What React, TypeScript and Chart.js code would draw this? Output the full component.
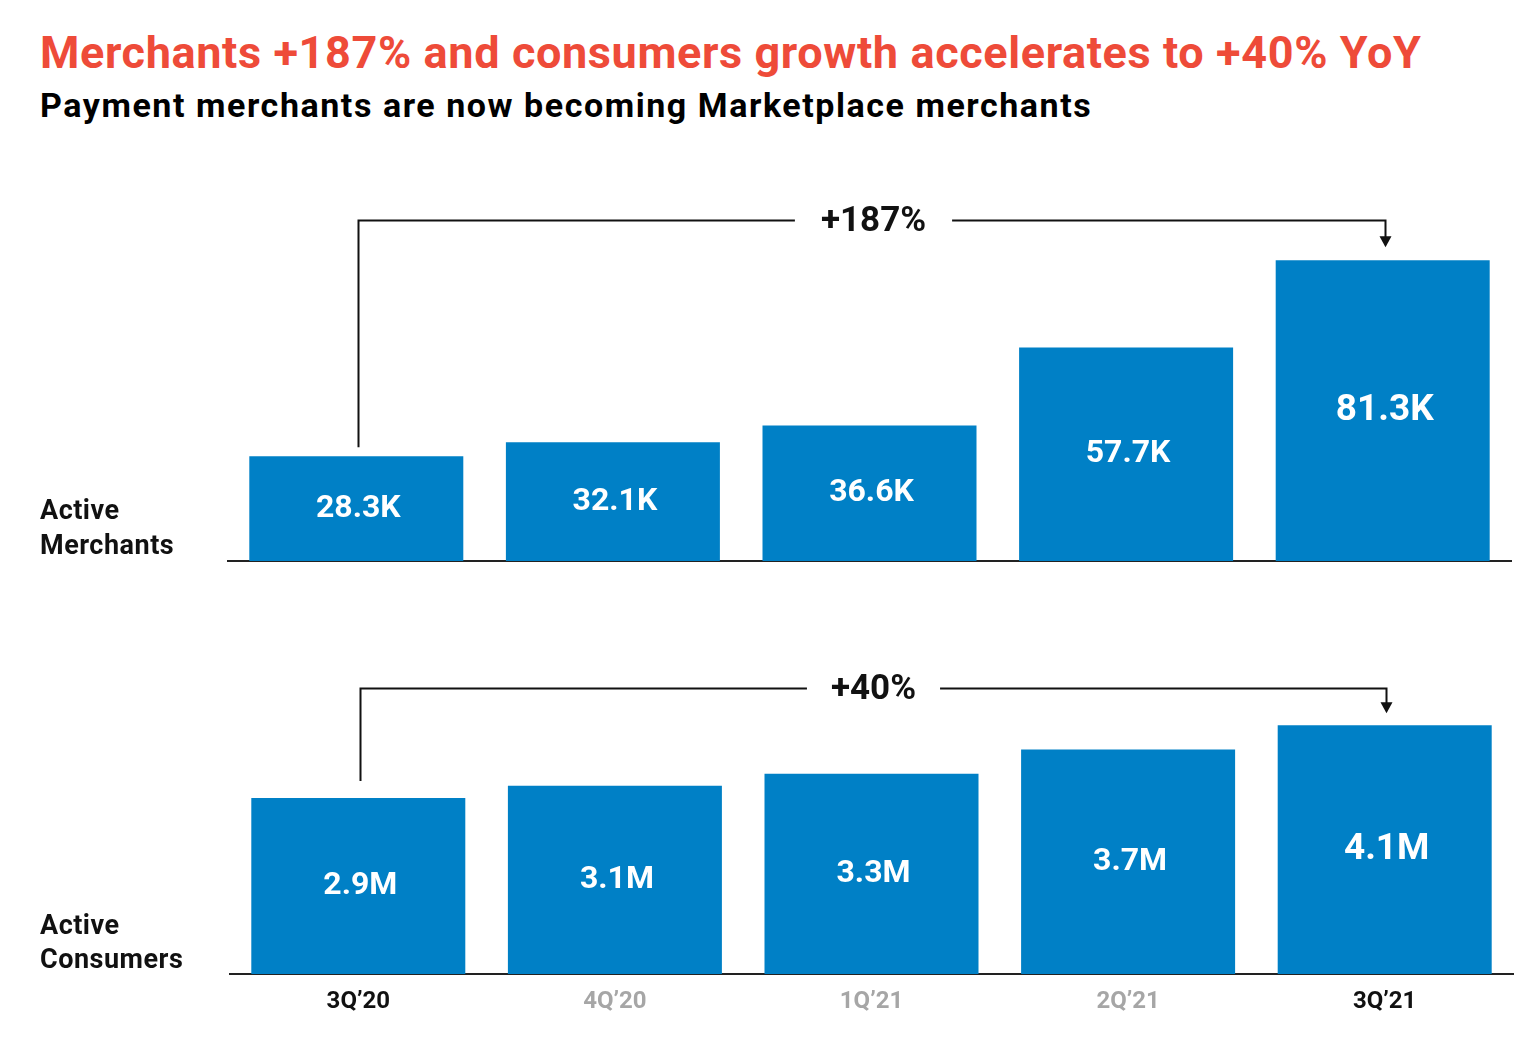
import React, { useEffect, useRef } from 'react';
import { Chart, registerables } from 'chart.js';

Chart.register(...registerables);

const quarters = ['3Q\u201920', '4Q\u201920', '1Q\u201921', '2Q\u201921', '3Q\u201921'];
const merchantValues = [28.3, 32.1, 36.6, 57.7, 81.3];
const merchantLabels = ['28.3K', '32.1K', '36.6K', '57.7K', '81.3K'];
const consumerValues = [2.9, 3.1, 3.3, 3.7, 4.1];
const consumerLabels = ['2.9M', '3.1M', '3.3M', '3.7M', '4.1M'];
const merchantGrowth = '+187%';
const consumerGrowth = '+40%';

const BLUE = '#0080C6';
const FONT = 'Roboto, "Noto Sans", sans-serif';

const valueLabelPlugin = {
  id: 'valueLabels',
  afterDatasetsDraw(chart: any, _args: any, opts: any) {
    const ctx = chart.ctx;
    const meta = chart.getDatasetMeta(0);
    ctx.save();
    ctx.fillStyle = '#ffffff';
    ctx.textAlign = 'center';
    ctx.textBaseline = 'middle';
    meta.data.forEach((bar: any, i: number) => {
      const size = opts.sizes[i];
      ctx.font = `bold ${size}px ${FONT}`;
      const cy = (bar.y + bar.base) / 2;
      ctx.fillText(opts.labels[i], bar.x + 2, cy);
    });
    ctx.restore();
  },
};

const bracketPlugin = {
  id: 'bracket',
  afterDatasetsDraw(chart: any, _args: any, opts: any) {
    const ctx = chart.ctx;
    const meta = chart.getDatasetMeta(0);
    const first = meta.data[0];
    const last = meta.data[meta.data.length - 1];
    const yScale = chart.scales.y;
    const by = Math.round(yScale.getPixelForValue(opts.level)) + 0.5;
    const x0 = Math.round(first.x + opts.startDx) + 0.5;
    const x1 = Math.round(last.x + opts.endDx) + 0.5;
    const cx = (first.x + last.x) / 2 + opts.textDx;
    ctx.save();
    ctx.font = `bold ${opts.fontSize}px ${FONT}`;
    const tw = ctx.measureText(opts.text).width;
    ctx.strokeStyle = '#111';
    ctx.lineWidth = 2;
    ctx.beginPath();
    ctx.moveTo(x0, first.y - opts.startGap);
    ctx.lineTo(x0, by);
    ctx.lineTo(cx - tw / 2 - opts.textGap, by);
    ctx.moveTo(cx + tw / 2 + opts.textGap, by);
    ctx.lineTo(x1, by);
    const tipY = last.y - opts.endGap;
    ctx.lineTo(x1, tipY - 10);
    ctx.stroke();
    ctx.fillStyle = '#111';
    ctx.beginPath();
    ctx.moveTo(x1 - 6, tipY - 11);
    ctx.lineTo(x1 + 6, tipY - 11);
    ctx.lineTo(x1, tipY);
    ctx.closePath();
    ctx.fill();
    ctx.textAlign = 'center';
    ctx.textBaseline = 'middle';
    ctx.fillText(opts.text, cx, by + 2);
    ctx.restore();
  },
};

function makeChart(
  canvas: HTMLCanvasElement,
  values: number[],
  labels: string[],
  yMax: number,
  padding: any,
  showTicks: boolean,
  bracket: any,
  sizes: number[]
) {
  return new Chart(canvas, {
    type: 'bar',
    data: {
      labels: quarters,
      datasets: [
        {
          data: values,
          backgroundColor: BLUE,
          borderWidth: 0,
          barPercentage: 0.834,
          categoryPercentage: 1,
        },
      ],
    },
    options: {
      responsive: false,
      animation: false,
      devicePixelRatio: 1,
      layout: { padding },
      plugins: {
        legend: { display: false },
        tooltip: { enabled: false },
        title: { display: false },
        valueLabels: { labels, sizes },
        bracket,
      } as any,
      scales: {
        x: {
          display: true,
          grid: { display: false, drawTicks: false },
          border: { display: true, color: '#222', width: 2 },
          ticks: {
            display: showTicks,
            padding: 14,
            font: { family: FONT, size: 24, weight: 'bold' },
            color: (c: any) => (c.index === 0 || c.index === quarters.length - 1 ? '#111' : '#A6A6A6'),
          },
        },
        y: {
          display: false,
          min: 0,
          max: yMax,
        },
      },
    },
    plugins: [valueLabelPlugin, bracketPlugin],
  });
}

export default function App() {
  const topRef = useRef<HTMLCanvasElement>(null);
  const botRef = useRef<HTMLCanvasElement>(null);

  useEffect(() => {
    document.body.style.margin = '0';
    const c1 = makeChart(
      topRef.current!,
      merchantValues,
      merchantLabels,
      100,
      { top: 191, bottom: 39, left: 228, right: 25 },
      false,
      {
        text: merchantGrowth,
        level: 92.2,
        fontSize: 35,
        startDx: 2,
        endDx: 2,
        textDx: 4,
        startGap: 9,
        endGap: 13,
        textGap: 26,
      },
      [32, 32, 32, 32, 37]
    );
    const c2 = makeChart(
      botRef.current!,
      consumerValues,
      consumerLabels,
      5,
      { top: 70.5, bottom: 7.2, left: 230, right: 23 },
      true,
      {
        text: consumerGrowth,
        level: 4.71,
        fontSize: 35,
        startDx: 2,
        endDx: 1,
        textDx: 2,
        startGap: 17,
        endGap: 12,
        textGap: 24,
      },
      [32, 32, 32, 32, 37]
    );
    return () => {
      c1.destroy();
      c2.destroy();
    };
  }, []);

  const textBase: React.CSSProperties = {
    position: 'absolute',
    fontFamily: FONT,
    fontWeight: 700,
    whiteSpace: 'nowrap',
  };

  return (
    <div style={{ position: 'relative', width: 1536, height: 1038, background: '#fff', overflow: 'hidden' }}>
      <div style={{ ...textBase, left: 40, top: 30, fontSize: 45, lineHeight: '45px', letterSpacing: 0.62, color: '#EE4B39' }}>
        Merchants +187% and consumers growth accelerates to +40% YoY
      </div>
      <div style={{ ...textBase, left: 40, top: 88, fontSize: 34, lineHeight: '34px', letterSpacing: 1.55, color: '#000' }}>
        Payment merchants are now becoming Marketplace merchants
      </div>
      <canvas ref={topRef} width={1536} height={600} style={{ position: 'absolute', left: 0, top: 0 }} />
      <canvas ref={botRef} width={1536} height={438} style={{ position: 'absolute', left: 0, top: 600 }} />
      <div style={{ ...textBase, left: 40, top: 493, fontSize: 27, lineHeight: '35px', letterSpacing: 0.5, color: '#111' }}>
        Active
        <br />
        Merchants
      </div>
      <div style={{ ...textBase, left: 40, top: 908, fontSize: 27, lineHeight: '34px', letterSpacing: 0.5, color: '#111' }}>
        Active
        <br />
        Consumers
      </div>
    </div>
  );
}
